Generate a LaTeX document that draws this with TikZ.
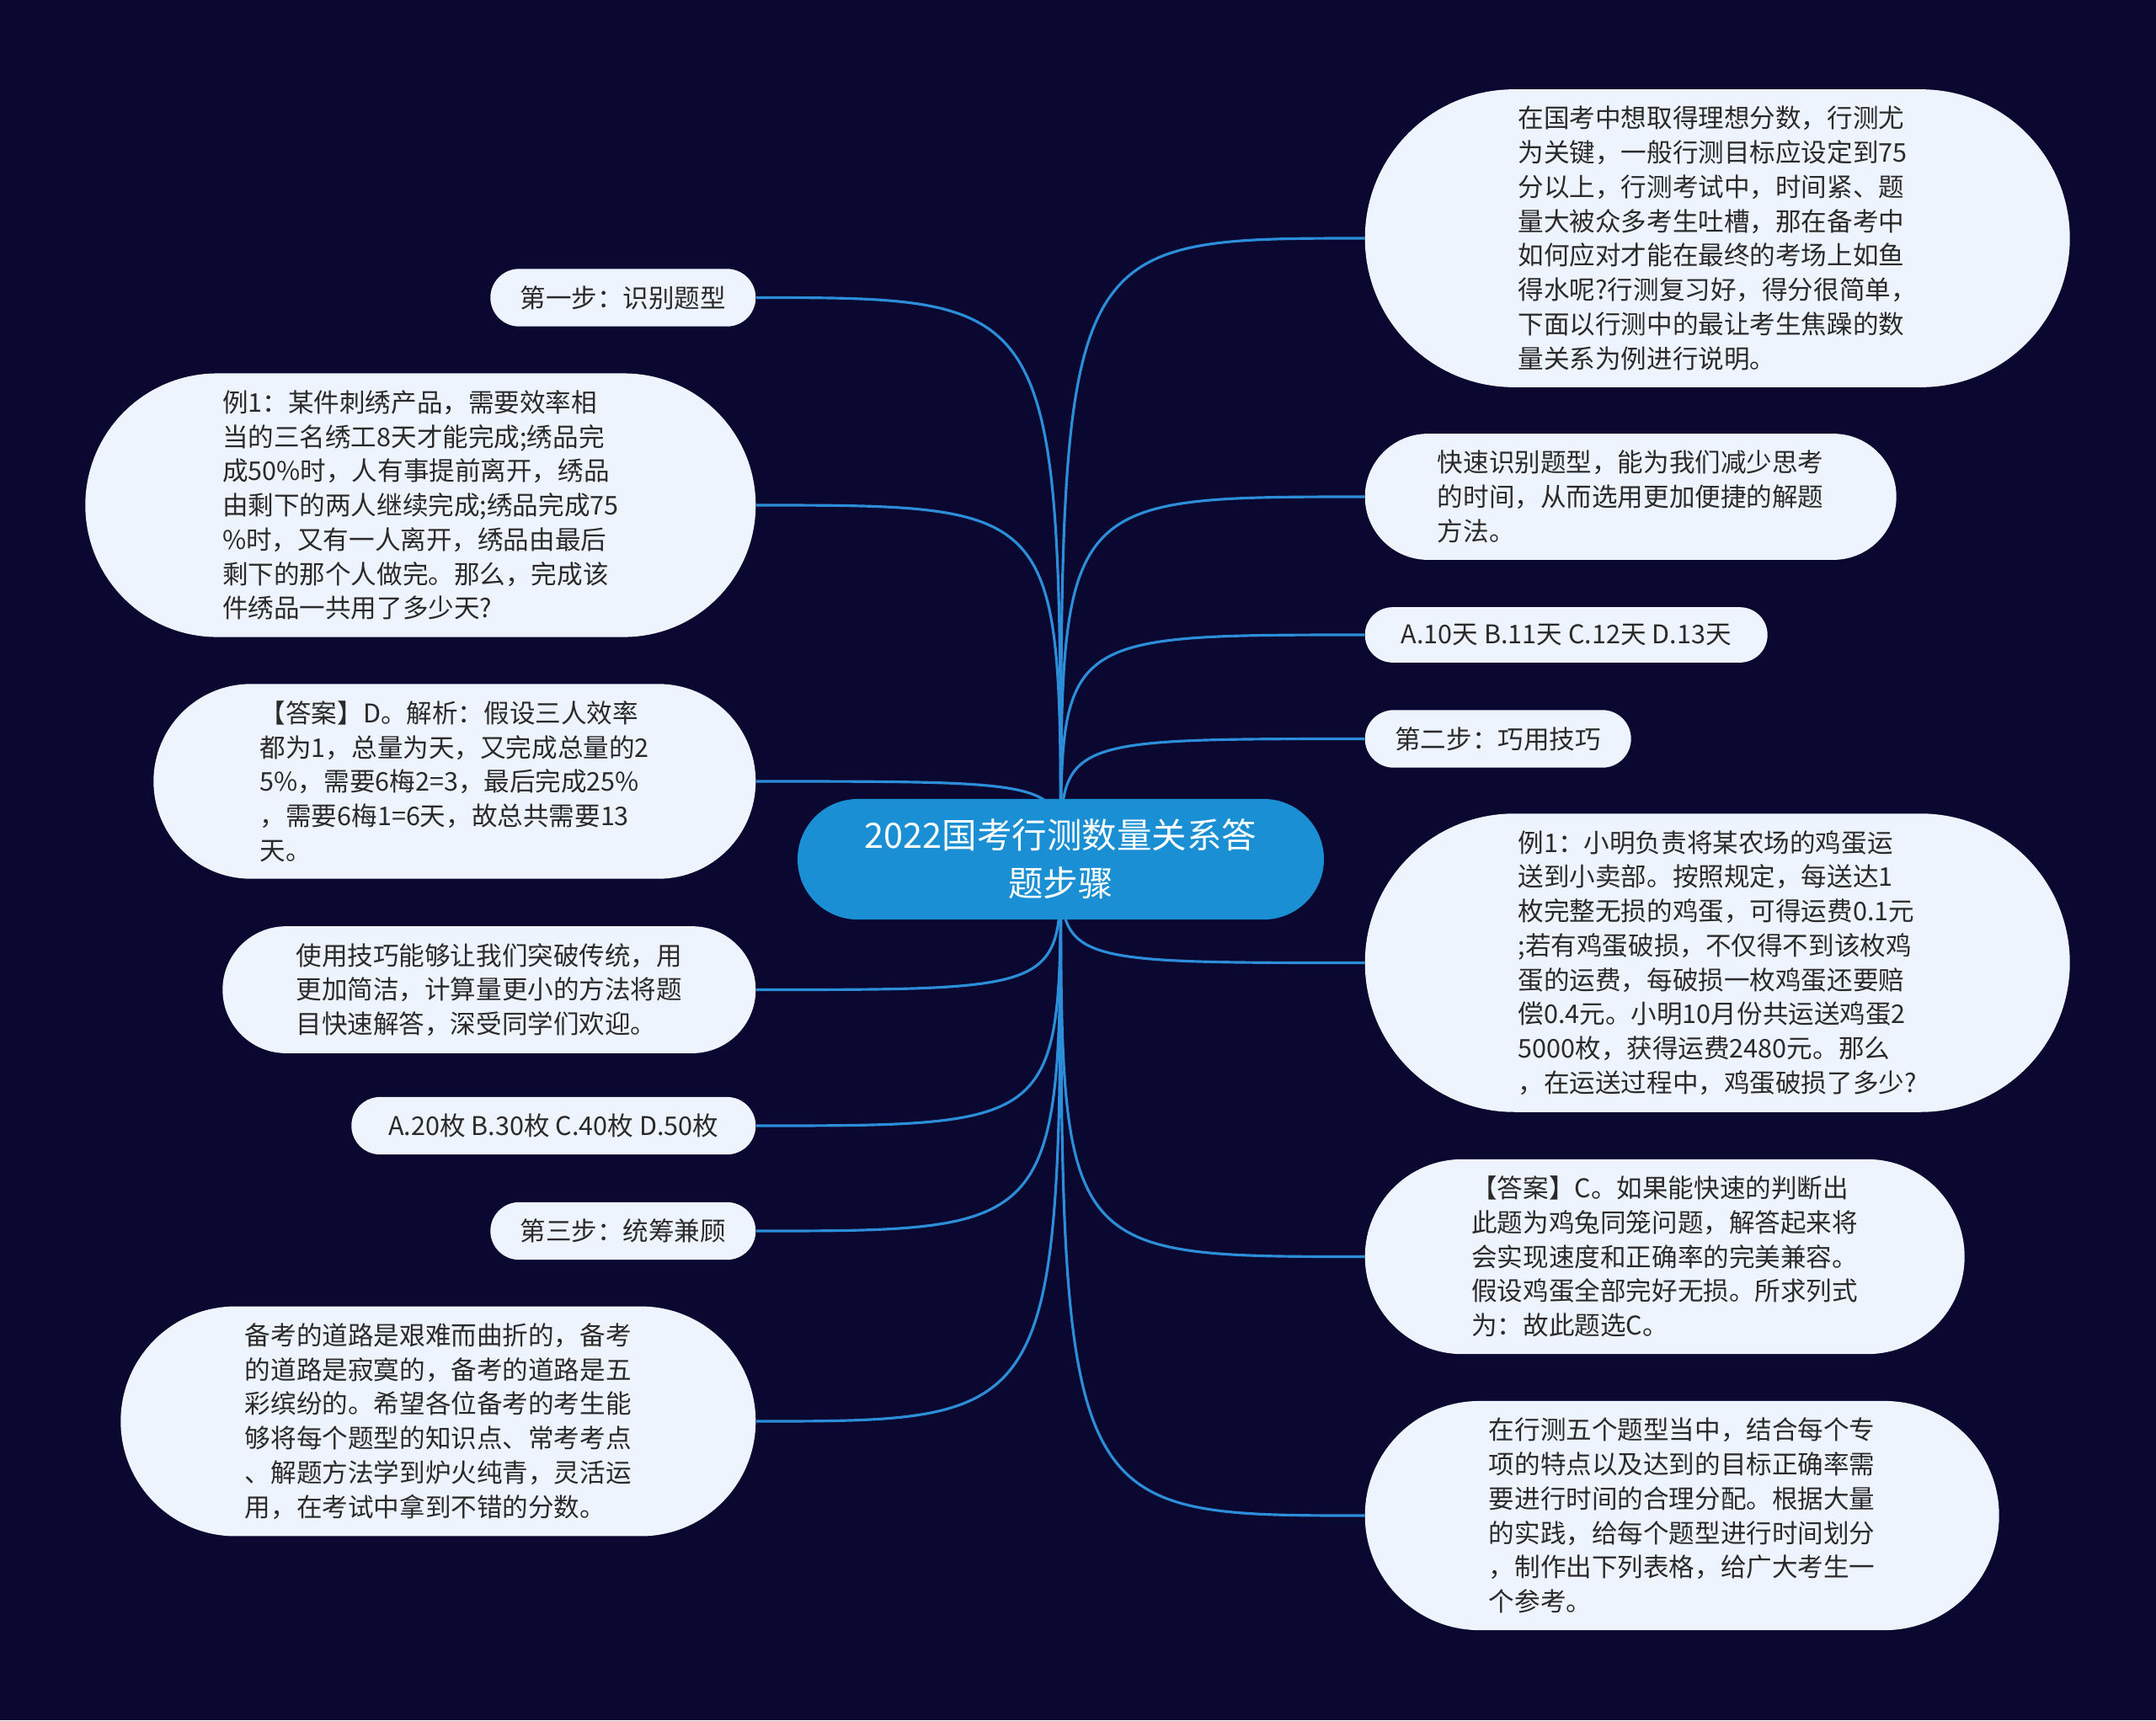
\documentclass[tikz,border=0pt]{standalone}
\usepackage{fontspec}
\setmainfont{Noto Sans CJK SC}
\usetikzlibrary{shapes.misc}
\definecolor{navy}{HTML}{0A0830}
\definecolor{leaffill}{HTML}{EEF4FD}
\definecolor{hubblue}{HTML}{1A8FD4}
\definecolor{branchblue}{HTML}{2C8DD8}
\definecolor{leaftext}{HTML}{2A2A2A}
\pgfdeclarelayer{bg}
\pgfdeclarelayer{wires}
\pgfsetlayers{bg,wires,main}

\begin{document}
\begin{tikzpicture}[>=latex,
  leaf/.style={rounded rectangle, fill=leaffill, text=leaftext, align=left,
    inner xsep=0.05cm, inner ysep=0.2cm,
    font=\fontsize{8.7pt}{11.6pt}\selectfont},
  branch/.style={branchblue, line width=0.9pt}]
%%canvas
\begin{pgfonlayer}{bg}
\fill[navy] (0cm, 0cm) rectangle (25.6cm, -20.43cm);
\end{pgfonlayer}
\useasboundingbox (0cm, 0cm) rectangle (25.6cm, -20.43cm);
%%topic
\node[rounded rectangle, fill=hubblue, text=white, align=center,
  inner xsep=0.06cm, inner ysep=0.24cm, minimum width=6.37cm,
  font=\fontsize{11.8pt}{16.2pt}\selectfont]
  (topic) at (12.595cm, -10.205cm) {2022国考行测数量关系答\\题步骤};
%%left side
%step one
\node[leaf, anchor=east, minimum width=3.25cm] (stepone) at (8.98cm, -3.535cm)
  {第一步：识别题型};
%example one
\node[leaf, anchor=east, minimum width=8.06cm] (exone) at (8.98cm, -6.0cm)
  {例1：某件刺绣产品，需要效率相\\
   当的三名绣工8天才能完成;绣品完\\
   成50\%时，人有事提前离开，绣品\\
   由剩下的两人继续完成;绣品完成75\\
   \%时，又有一人离开，绣品由最后\\
   剩下的那个人做完。那么，完成该\\
   件绣品一共用了多少天?};
%answer one
\node[leaf, anchor=east, minimum width=7.25cm] (ansone) at (8.98cm, -9.28cm)
  {【答案】D。解析：假设三人效率\\
   都为1，总量为天，又完成总量的2\\
   5\%，需要6梅2=3，最后完成25\%\\
   ，需要6梅1=6天，故总共需要13\\
   天。};
%tips
\node[leaf, anchor=east, minimum width=6.43cm] (tips) at (8.98cm, -11.755cm)
  {使用技巧能够让我们突破传统，用\\
   更加简洁，计算量更小的方法将题\\
   目快速解答，深受同学们欢迎。};
%options two
\node[leaf, anchor=east, minimum width=4.9cm] (opttwo) at (8.98cm, -13.37cm)
  {A.20枚 B.30枚 C.40枚 D.50枚};
%step three
\node[leaf, anchor=east, minimum width=3.25cm] (stepthree) at (8.98cm, -14.62cm)
  {第三步：统筹兼顾};
%closing words
\node[leaf, anchor=east, minimum width=7.64cm] (closing) at (8.98cm, -16.88cm)
  {备考的道路是艰难而曲折的，备考\\
   的道路是寂寞的，备考的道路是五\\
   彩缤纷的。希望各位备考的考生能\\
   够将每个题型的知识点、常考考点\\
   、解题方法学到炉火纯青，灵活运\\
   用，在考试中拿到不错的分数。};
%%right side
%intro
\node[leaf, anchor=west, minimum width=8.47cm] (intro) at (16.2cm, -2.83cm)
  {在国考中想取得理想分数，行测尤\\
   为关键，一般行测目标应设定到75\\
   分以上，行测考试中，时间紧、题\\
   量大被众多考生吐槽，那在备考中\\
   如何应对才能在最终的考场上如鱼\\
   得水呢?行测复习好，得分很简单，\\
   下面以行测中的最让考生焦躁的数\\
   量关系为例进行说明。};
%quick check
\node[leaf, anchor=west, minimum width=6.41cm] (quick) at (16.2cm, -5.9cm)
  {快速识别题型，能为我们减少思考\\
   的时间，从而选用更加便捷的解题\\
   方法。};
%options one
\node[leaf, anchor=west, minimum width=4.88cm] (optone) at (16.2cm, -7.54cm)
  {A.10天 B.11天 C.12天 D.13天};
%step two
\node[leaf, anchor=west, minimum width=3.26cm] (steptwo) at (16.2cm, -8.775cm)
  {第二步：巧用技巧};
%example two
\node[leaf, anchor=west, minimum width=8.47cm] (extwo) at (16.2cm, -11.435cm)
  {例1：小明负责将某农场的鸡蛋运\\
   送到小卖部。按照规定，每送达1\\
   枚完整无损的鸡蛋，可得运费0.1元\\
   ;若有鸡蛋破损，不仅得不到该枚鸡\\
   蛋的运费，每破损一枚鸡蛋还要赔\\
   偿0.4元。小明10月份共运送鸡蛋2\\
   5000枚，获得运费2480元。那么\\
   ，在运送过程中，鸡蛋破损了多少?};
%answer two
\node[leaf, anchor=west, minimum width=7.22cm] (anstwo) at (16.2cm, -14.925cm)
  {【答案】C。如果能快速的判断出\\
   此题为鸡兔同笼问题，解答起来将\\
   会实现速度和正确率的完美兼容。\\
   假设鸡蛋全部完好无损。所求列式\\
   为：故此题选C。};
%time plan
\node[leaf, anchor=west, minimum width=7.63cm] (timeplan) at (16.2cm, -18.0cm)
  {在行测五个题型当中，结合每个专\\
   项的特点以及达到的目标正确率需\\
   要进行时间的合理分配。根据大量\\
   的实践，给每个题型进行时间划分\\
   ，制作出下列表格，给广大考生一\\
   个参考。};
%%branches
\begin{pgfonlayer}{wires}
\draw[branch] (topic.center) .. controls (topic.center |- stepone.east) .. (stepone.east);
\draw[branch] (topic.center) .. controls (topic.center |- exone.east) .. (exone.east);
\draw[branch] (topic.center) .. controls (topic.center |- ansone.east) .. (ansone.east);
\draw[branch] (topic.center) .. controls (topic.center |- tips.east) .. (tips.east);
\draw[branch] (topic.center) .. controls (topic.center |- opttwo.east) .. (opttwo.east);
\draw[branch] (topic.center) .. controls (topic.center |- stepthree.east) .. (stepthree.east);
\draw[branch] (topic.center) .. controls (topic.center |- closing.east) .. (closing.east);
\draw[branch] (topic.center) .. controls (topic.center |- intro.west) .. (intro.west);
\draw[branch] (topic.center) .. controls (topic.center |- quick.west) .. (quick.west);
\draw[branch] (topic.center) .. controls (topic.center |- optone.west) .. (optone.west);
\draw[branch] (topic.center) .. controls (topic.center |- steptwo.west) .. (steptwo.west);
\draw[branch] (topic.center) .. controls (topic.center |- extwo.west) .. (extwo.west);
\draw[branch] (topic.center) .. controls (topic.center |- anstwo.west) .. (anstwo.west);
\draw[branch] (topic.center) .. controls (topic.center |- timeplan.west) .. (timeplan.west);
\end{pgfonlayer}
\end{tikzpicture}
\end{document}
